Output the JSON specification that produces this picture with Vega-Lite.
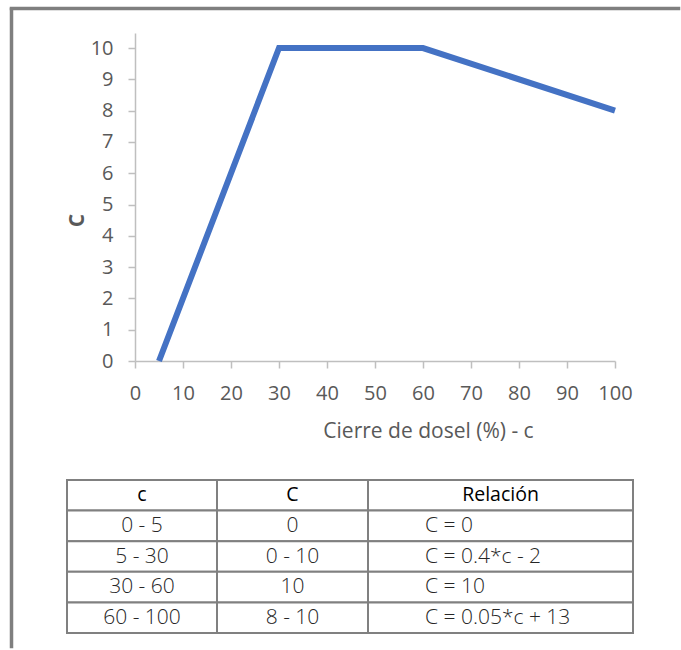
{
  "$schema": "https://vega.github.io/schema/vega-lite/v6.json",
  "padding": {"left": 9, "top": 6, "right": 0, "bottom": 0},
  "background": "white",
  "config": {
    "view": {"stroke": null},
    "font": "Open Sans"
  },
  "datasets": {
    "curve": [
      {"cierre": 5, "valor": 0},
      {"cierre": 30, "valor": 10},
      {"cierre": 60, "valor": 10},
      {"cierre": 100, "valor": 8}
    ],
    "tabla": [
      {"row": 0, "c": "c", "C": "C", "rel": "Relación"},
      {"row": 1, "c": "0 - 5", "C": "0", "rel": "C = 0"},
      {"row": 2, "c": "5 - 30", "C": "0 - 10", "rel": "C = 0.4*c - 2"},
      {"row": 3, "c": "30 - 60", "C": "10", "rel": "C = 10"},
      {"row": 4, "c": "60 - 100", "C": "8 - 10", "rel": "C = 0.05*c + 13"}
    ],
    "empty": []
  },
  "bounds": "flush",
  "spacing": 0,
  "vconcat": [
    {
      "width": 668, "height": 1,
      "view": {"stroke": "#7f7f7f", "strokeWidth": 2.5},
      "data": {"name": "empty"},
      "mark": "rect"
    },
    {
      "bounds": "flush",
      "spacing": 55,
      "hconcat": [
        {
          "width": 1, "height": 638,
          "view": {"stroke": "#7f7f7f", "strokeWidth": 2.5},
          "data": {"name": "empty"},
          "mark": "rect"
        },
        {
          "bounds": "flush",
          "spacing": 23,
          "vconcat": [
            {
              "width": 1, "height": 1,
              "data": {"name": "empty"},
              "mark": "rect"
            },
            {
              "bounds": "full",
              "spacing": 38,
              "vconcat": [
                {
                  "bounds": "flush",
                  "spacing": 0,
                  "hconcat": [
                    {
                      "width": 68, "height": 1,
                      "data": {"name": "empty"},
                      "mark": "rect"
                    },
                    {
                      "width": 480, "height": 328,
                      "data": {"name": "curve"},
                      "mark": {"type": "line", "color": "#4472C4", "strokeWidth": 6, "strokeCap": "butt", "strokeJoin": "miter", "clip": false},
                      "encoding": {
                        "x": {
                          "field": "cierre", "type": "quantitative",
                          "scale": {"domain": [0, 100], "nice": false, "zero": false},
                          "axis": {
                            "values": [0, 10, 20, 30, 40, 50, 60, 70, 80, 90, 100],
                            "grid": false,
                            "domainColor": "#bfbfbf", "domainWidth": 1.5,
                            "tickColor": "#bfbfbf", "tickWidth": 1.5, "tickSize": 7,
                            "labelFont": "Open Sans", "labelFontSize": 20, "labelFontWeight": 400,
                            "labelColor": "#595959", "labelPadding": 15, "labelFlush": false,
                            "title": "Cierre de dosel (%) - c",
                            "titleFont": "Open Sans", "titleFontSize": 21, "titleFontWeight": 400,
                            "titleColor": "#595959",
                            "titleX": 293, "titleY": 76,
                            "titleAlign": "center", "titleBaseline": "alphabetic"
                          }
                        },
                        "y": {
                          "field": "valor", "type": "quantitative",
                          "scale": {"domain": [0, 10.48], "nice": false},
                          "axis": {
                            "values": [0, 1, 2, 3, 4, 5, 6, 7, 8, 9, 10],
                            "grid": false,
                            "domainColor": "#bfbfbf", "domainWidth": 1.5,
                            "tickColor": "#bfbfbf", "tickWidth": 1.5, "tickSize": 7,
                            "labelFont": "Open Sans", "labelFontSize": 20, "labelFontWeight": 400,
                            "labelColor": "#595959", "labelPadding": 15, "labelFlush": false,
                            "title": "C",
                            "titleFont": "Open Sans", "titleFontSize": 21, "titleFontWeight": "bold",
                            "titleColor": "#595959",
                            "titleAngle": 270,
                            "titleX": -52, "titleY": 187,
                            "titleAlign": "center", "titleBaseline": "alphabetic"
                          }
                        }
                      }
                    }
                  ]
                },
                {
                  "bounds": "flush",
                  "spacing": 0,
                  "hconcat": [
                    {
                      "width": 150, "height": 153,
                      "data": {"name": "tabla"},
                      "encoding": {
                        "y": {"field": "row", "type": "ordinal", "axis": null, "scale": {"paddingInner": 0, "paddingOuter": 0}}
                      },
                      "layer": [
                        {"mark": {"type": "rect", "fill": "white", "stroke": "#808080", "strokeWidth": 2}},
                        {
                          "transform": [{"filter": "datum.row == 0"}],
                          "mark": {"type": "text", "font": "Open Sans", "fontSize": 19.5, "color": "#000000"},
                          "encoding": {"text": {"field": "c"}}
                        },
                        {
                          "transform": [{"filter": "datum.row > 0"}],
                          "mark": {"type": "text", "font": "Open Sans", "fontSize": 21, "fontWeight": 300, "color": "#262626"},
                          "encoding": {"text": {"field": "c"}}
                        }
                      ]
                    },
                    {
                      "width": 151, "height": 153,
                      "data": {"name": "tabla"},
                      "encoding": {
                        "y": {"field": "row", "type": "ordinal", "axis": null, "scale": {"paddingInner": 0, "paddingOuter": 0}}
                      },
                      "layer": [
                        {"mark": {"type": "rect", "fill": "white", "stroke": "#808080", "strokeWidth": 2}},
                        {
                          "transform": [{"filter": "datum.row == 0"}],
                          "mark": {"type": "text", "font": "Open Sans", "fontSize": 19.5, "color": "#000000"},
                          "encoding": {"text": {"field": "C"}}
                        },
                        {
                          "transform": [{"filter": "datum.row > 0"}],
                          "mark": {"type": "text", "font": "Open Sans", "fontSize": 21, "fontWeight": 300, "color": "#262626"},
                          "encoding": {"text": {"field": "C"}}
                        }
                      ]
                    },
                    {
                      "width": 265, "height": 153,
                      "data": {"name": "tabla"},
                      "encoding": {
                        "y": {"field": "row", "type": "ordinal", "axis": null, "scale": {"paddingInner": 0, "paddingOuter": 0}}
                      },
                      "layer": [
                        {"mark": {"type": "rect", "fill": "white", "stroke": "#808080", "strokeWidth": 2}},
                        {
                          "transform": [{"filter": "datum.row == 0"}],
                          "mark": {"type": "text", "font": "Open Sans", "fontSize": 19.5, "color": "#000000"},
                          "encoding": {"text": {"field": "rel"}}
                        },
                        {
                          "transform": [{"filter": "datum.row > 0"}],
                          "mark": {"type": "text", "font": "Open Sans", "fontSize": 21, "fontWeight": 300, "color": "#262626", "align": "left", "dx": -75.5},
                          "encoding": {"text": {"field": "rel"}}
                        }
                      ]
                    }
                  ]
                }
              ]
            }
          ]
        }
      ]
    }
  ]
}
